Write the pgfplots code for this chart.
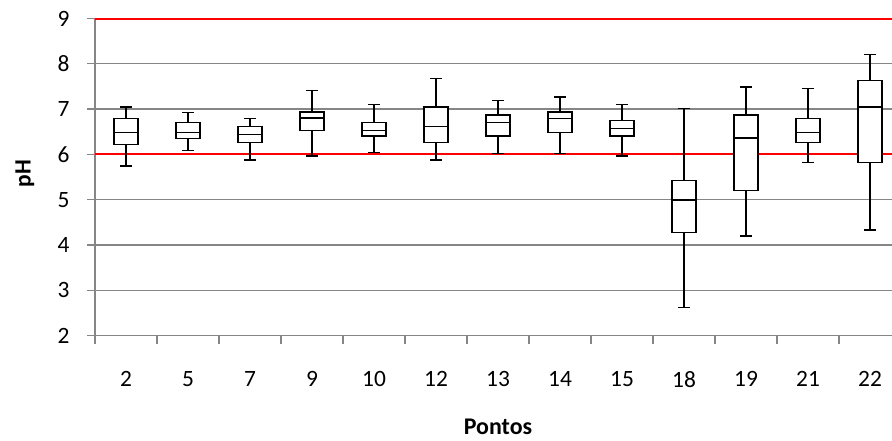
\documentclass[border=0pt]{standalone}
\usepackage{fontspec}
\setmainfont{Carlito}
\usepackage{pgfplots}
\pgfplotsset{compat=1.18}
\usepgfplotslibrary{statistics}
\definecolor{gridgray}{RGB}{134,134,134}
\pgfplotsset{bx/.style={black, line width=1.5bp, fill=white, solid, mark=none,
  boxplot/draw direction=y, boxplot/box extend=0.39, boxplot/whisker extend=0.18}}
\begin{document}
\begin{tikzpicture}
\begin{axis}[
  scale only axis, width=797bp, height=317bp,
  xmin=-0.5, xmax=12.355, ymin=2, ymax=9,
  clip=false,
  axis x line=bottom, axis y line=left,
  axis line style={-, gridgray, line width=1.3bp},
  ytick={2,...,9},
  ymajorgrids, grid style={gridgray, line width=1.3bp},
  xtick={0,...,12},
  xticklabels={2,5,7,9,10,12,13,14,15,18,19,21,22},
  minor xtick={-0.5,0.5,...,11.5},
  tick align=outside,
  major tick length=8bp, minor tick length=8bp,
  tick style={gridgray, line width=1.3bp},
  major x tick style={draw=none},
  /pgf/number format/assume math mode=true,
  tick label style={font=\fontsize{23.5}{27}\selectfont, text=black},
  xticklabel style={yshift=-24bp},
  yticklabel style={xshift=-14bp},
]
\addplot[red, line width=2bp] coordinates {(-0.5,6) (12.355,6)};
\addplot[red, line width=2bp] coordinates {(-0.5,9) (12.355,9)};
\addplot[bx, boxplot prepared={draw position=0, lower whisker=5.74, lower quartile=6.22, median=6.48, upper quartile=6.79, upper whisker=7.05}] coordinates {};
\addplot[bx, boxplot prepared={draw position=1, lower whisker=6.09, lower quartile=6.35, median=6.48, upper quartile=6.70, upper whisker=6.92}] coordinates {};
\addplot[bx, boxplot prepared={draw position=2, lower whisker=5.87, lower quartile=6.26, median=6.44, upper quartile=6.62, upper whisker=6.79}] coordinates {};
\addplot[bx, boxplot prepared={draw position=3, lower whisker=5.96, lower quartile=6.53, median=6.80, upper quartile=6.93, upper whisker=7.41}] coordinates {};
\addplot[bx, boxplot prepared={draw position=4, lower whisker=6.04, lower quartile=6.40, median=6.53, upper quartile=6.70, upper whisker=7.10}] coordinates {};
\addplot[bx, boxplot prepared={draw position=5, lower whisker=5.87, lower quartile=6.26, median=6.62, upper quartile=7.05, upper whisker=7.67}] coordinates {};
\addplot[bx, boxplot prepared={draw position=6, lower whisker=6.02, lower quartile=6.40, median=6.70, upper quartile=6.87, upper whisker=7.19}] coordinates {};
\addplot[bx, boxplot prepared={draw position=7, lower whisker=6.02, lower quartile=6.48, median=6.79, upper quartile=6.93, upper whisker=7.27}] coordinates {};
\addplot[bx, boxplot prepared={draw position=8, lower whisker=5.96, lower quartile=6.40, median=6.57, upper quartile=6.75, upper whisker=7.10}] coordinates {};
\addplot[bx, boxplot prepared={draw position=9, lower whisker=2.62, lower quartile=4.28, median=4.99, upper quartile=5.42, upper whisker=7.01}] coordinates {};
\addplot[bx, boxplot prepared={draw position=10, lower whisker=4.20, lower quartile=5.20, median=6.36, upper quartile=6.87, upper whisker=7.49}] coordinates {};
\addplot[bx, boxplot prepared={draw position=11, lower whisker=5.82, lower quartile=6.26, median=6.48, upper quartile=6.79, upper whisker=7.45}] coordinates {};
\addplot[bx, boxplot prepared={draw position=12, lower whisker=4.33, lower quartile=5.82, median=7.05, upper quartile=7.63, upper whisker=8.20}] coordinates {};
\node[anchor=base, font=\fontsize{24}{28}\selectfont\bfseries] at ([yshift=-99bp]axis cs:6,2) {Pontos};
\node[rotate=90, font=\fontsize{23.5}{27}\selectfont\bfseries] at ([xshift=-70bp]axis cs:-0.5,5.57) {pH};
\end{axis}
\pgfresetboundingbox
\path[use as bounding box] (-95bp,-105.5bp) rectangle (797bp,335.5bp);
\end{tikzpicture}
\end{document}
